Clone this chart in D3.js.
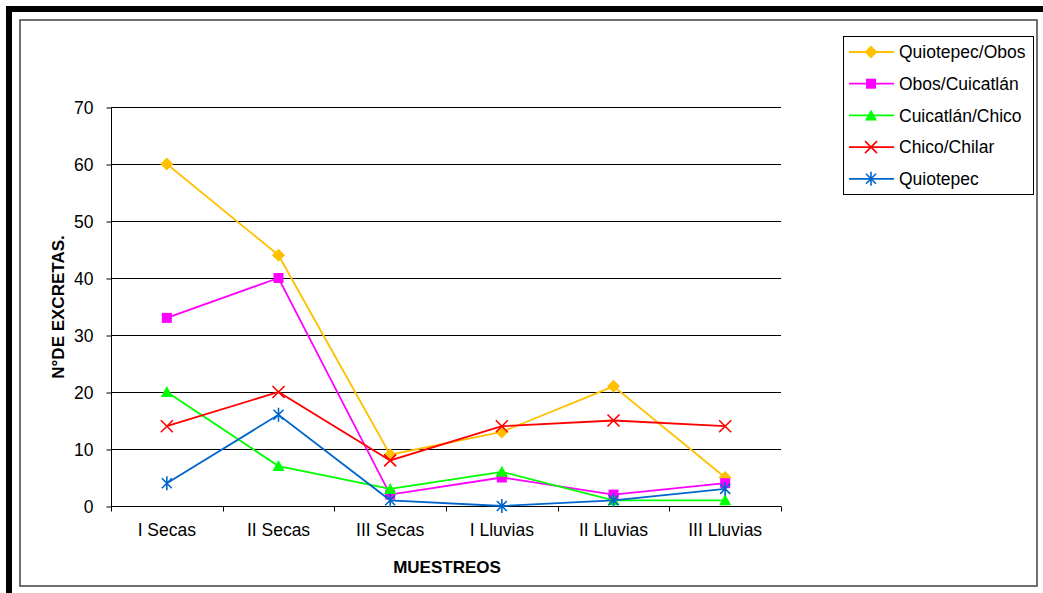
<!DOCTYPE html>
<html><head><meta charset="utf-8">
<script src="https://cdn.jsdelivr.net/npm/d3@7/dist/d3.min.js"></script>
<style>body{margin:0;background:#fff}svg{display:block}text{font-family:"Liberation Sans",Arial,sans-serif}</style>
</head><body><svg id="c" width="1043" height="593"></svg>
<script>
const categories = ["I Secas","II Secas","III Secas","I Lluvias","II Lluvias","III Lluvias"];
const seriesNames = ["Quiotepec/Obos","Obos/Cuicatlán","Cuicatlán/Chico","Chico/Chilar","Quiotepec"];
const quiotepecObos   = [60, 44, 9, 13, 21, 5];
const obosCuicatlan   = [33, 40, 2, 5, 2, 4];
const cuicatlanChico  = [20, 7, 3, 6, 1, 1];
const chicoChilar     = [14, 20, 8, 14, 15, 14];
const quiotepec       = [4, 16, 1, 0, 1, 3];
const yTicks = [0,10,20,30,40,50,60,70];

const seriesValues = [quiotepecObos, obosCuicatlan, cuicatlanChico, chicoChilar, quiotepec];
const colors = ["#FFC000","#FF00FF","#00FF00","#FF0000","#0066CC"];
const markers = ["diamond","square","triangle","x","star"];
const FS = 17.5;

const svg = d3.select("#c");
// outer frame
svg.append("rect").attr("x",6).attr("y",6).attr("width",1037).attr("height",6).attr("fill","#000");
svg.append("rect").attr("x",6).attr("y",6).attr("width",6).attr("height",587).attr("fill","#000");
svg.append("rect").attr("x",20).attr("y",20).attr("width",1017).attr("height",566)
  .attr("fill","none").attr("stroke","#404040").attr("stroke-width",1.5);

const L=111, R=781, T=107, B=506;
const x = d3.scaleBand().domain(categories).range([L,R]);
const y = d3.scaleLinear().domain([0,70]).range([B,T]);

// gridlines
svg.append("g").selectAll("line").data(yTicks.filter(d=>d>0)).join("line")
  .attr("x1",L).attr("x2",R).attr("y1",d=>Math.round(y(d))+0.5).attr("y2",d=>Math.round(y(d))+0.5)
  .attr("stroke","#000").attr("stroke-width",1);

// y axis
const yAxis = d3.axisLeft(y).tickValues(yTicks).tickSize(5).tickPadding(13);
const gy = svg.append("g").attr("transform",`translate(${L+0.5},0.5)`).call(yAxis);
gy.selectAll("text").attr("font-size",FS).attr("fill","#000").style("font-family",'"Liberation Sans",Arial,sans-serif');
gy.selectAll("line,path").attr("stroke","#000");
gy.select(".domain").attr("d",`M0,${T}V${B}`);

// x axis
const xAxis = d3.axisBottom(x).tickSize(0).tickPadding(17.5);
const gx = svg.append("g").attr("transform",`translate(0,${B+0.5})`).call(xAxis);
gx.selectAll("text").attr("font-size",FS).attr("fill","#000").style("font-family",'"Liberation Sans",Arial,sans-serif');
gx.select(".domain").attr("stroke","#000").attr("d",`M${L},0H${R}`);
gx.selectAll(".bt").data(categories.concat(["_end"])).join("line").attr("class","bt")
  .attr("x1",(d,i)=>Math.round(L+i*x.bandwidth())+0.5).attr("x2",(d,i)=>Math.round(L+i*x.bandwidth())+0.5)
  .attr("y1",0).attr("y2",5).attr("stroke","#000");

// axis titles
svg.append("text").attr("x",447).attr("y",573).attr("text-anchor","middle")
  .attr("font-size",17).attr("font-weight","bold").text("MUESTREOS");
svg.append("text").attr("transform","translate(64,307) rotate(-90)").attr("text-anchor","middle")
  .attr("font-size",17).attr("font-weight","bold").text("N°DE EXCRETAS.");

function drawMarker(g, type, color){
  if(type==="diamond") g.append("path").attr("d","M0,-6.5L6.5,0L0,6.5L-6.5,0Z").attr("fill",color);
  else if(type==="square") g.append("rect").attr("x",-5).attr("y",-5).attr("width",10).attr("height",10).attr("fill",color);
  else if(type==="triangle") g.append("path").attr("d","M0,-6L6,5L-6,5Z").attr("fill",color);
  else if(type==="x") g.append("path").attr("d","M-6,-6L6,6M6,-6L-6,6").attr("stroke",color).attr("stroke-width",1.6).attr("fill","none");
  else if(type==="star") g.append("path").attr("d","M-5,-5L5,5M5,-5L-5,5M0,-7V7").attr("stroke",color).attr("stroke-width",1.6).attr("fill","none");
}

const line = d3.line().x((d,i)=>x(categories[i])+x.bandwidth()/2).y(d=>y(d));
seriesValues.forEach((vals,si)=>{
  const g = svg.append("g");
  g.append("path").datum(vals).attr("d",line).attr("fill","none").attr("stroke",colors[si]).attr("stroke-width",1.8);
  vals.forEach((v,i)=>{
    const mg = g.append("g").attr("transform",`translate(${x(categories[i])+x.bandwidth()/2},${y(v)})`);
    drawMarker(mg, markers[si], colors[si]);
  });
});

// legend
svg.append("rect").attr("x",843.5).attr("y",36.5).attr("width",190).attr("height",158)
  .attr("fill","#fff").attr("stroke","#000").attr("stroke-width",1);
seriesNames.forEach((n,i)=>{
  const ly = 52 + i*31.7;
  const g = svg.append("g");
  g.append("line").attr("x1",849).attr("x2",894).attr("y1",ly).attr("y2",ly).attr("stroke",colors[i]).attr("stroke-width",1.8);
  const mg = g.append("g").attr("transform",`translate(871,${ly})`);
  drawMarker(mg, markers[i], colors[i]);
  g.append("text").attr("x",899).attr("y",ly+6.3).attr("font-size",FS).text(n);
});
</script></body></html>
